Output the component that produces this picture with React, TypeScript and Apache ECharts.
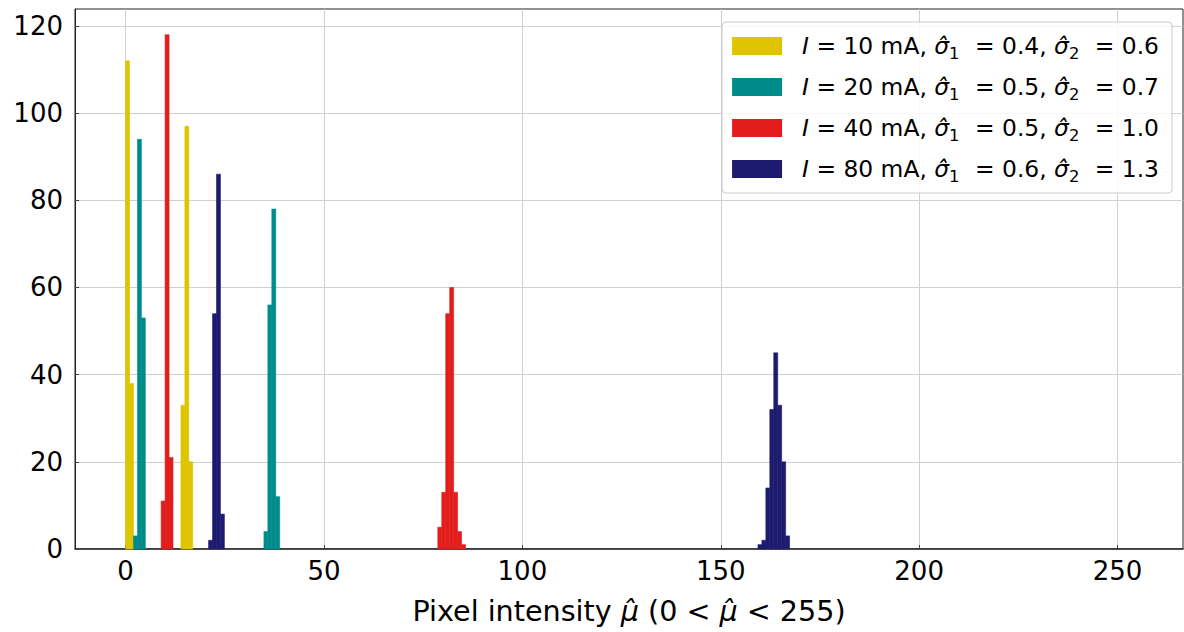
import React, { useEffect, useRef } from "react";
import * as echarts from "echarts";

// Histogram bins: 256 bins over [0, 255]
const binCount = 256;
const rangeMax = 255;

const currents = [10, 20, 40, 80];
const sigma1 = ["0.4", "0.5", "0.5", "0.6"];
const sigma2 = ["0.6", "0.7", "1.0", "1.3"];
const colors = ["#dfc400", "#008b8b", "#e31c1c", "#1d1b6f"];

const bins10 = [0, 1, 14, 15, 16];
const counts10 = [112, 38, 33, 97, 20];

const bins20 = [2, 3, 4, 35, 36, 37, 38];
const counts20 = [3, 94, 53, 4, 56, 78, 12];

const bins40 = [9, 10, 11, 79, 80, 81, 82, 83, 84, 85];
const counts40 = [11, 118, 21, 5, 13, 54, 60, 13, 4, 1];

const bins80 = [21, 22, 23, 24, 160, 161, 162, 163, 164, 165, 166, 167];
const counts80 = [2, 54, 86, 8, 1, 2, 14, 32, 45, 33, 20, 3];

const xTicks = [0, 50, 100, 150, 200, 250];
const yTicks = [0, 20, 40, 60, 80, 100, 120];

const allBins = [bins10, bins20, bins40, bins80];
const allCounts = [counts10, counts20, counts40, counts80];

const FONT = "DejaVu Sans";
const LF = 23.4;

export default function App() {
  const ref = useRef<HTMLDivElement>(null);
  useEffect(() => {
    if (!ref.current) return;
    const chart = echarts.init(ref.current, null, { renderer: "svg" });
    const w = rangeMax / binCount;
    const names = currents.map(
      (c, k) => `I = ${c} mA, σ̂1 = ${sigma1[k]}, σ̂2 = ${sigma2[k]}`
    );
    const series = allBins.map((bins, k) => ({
      type: "custom",
      name: names[k],
      itemStyle: { color: colors[k] },
      encode: { x: [0, 2], y: 1 },
      data: bins.map((b, j) => [b * w, allCounts[k][j], (b + 1) * w]),
      renderItem: (params: any, api: any) => {
        const p0 = api.coord([api.value(0), api.value(1)]);
        const p1 = api.coord([api.value(2), 0]);
        return {
          type: "rect",
          shape: { x: p0[0], y: p0[1], width: p1[0] - p0[0], height: p1[1] - p0[1] },
          style: { fill: colors[k], stroke: colors[k], lineWidth: 0.6 },
        };
      },
    }));
    chart.setOption({
      animation: false,
      backgroundColor: "#ffffff",
      grid: {
        left: 75,
        right: 1,
        top: 9,
        bottom: 83,
        show: true,
        borderColor: "#222",
        borderWidth: 1,
        containLabel: false,
      },
      legend: {
        orient: "vertical",
        right: 12,
        top: 22,
        itemWidth: 50,
        itemHeight: 18,
        itemGap: 11,
        icon: "rect",
        padding: [9, 13, 9, 10],
        backgroundColor: "rgba(255,255,255,0.85)",
        borderColor: "#cccccc",
        borderWidth: 1,
        borderRadius: 4,
        formatter: (name: string) =>
          name
            .replace(/^I/, "{it|I}")
            .replace(/σ̂(\d)/g, "{it|σ̂}{sub|$1}"),
        textStyle: {
          fontFamily: FONT,
          fontSize: LF,
          lineHeight: 30,
          color: "#000",
          padding: [0, 0, 0, 15],
          rich: {
            it: { fontFamily: FONT, fontSize: LF, lineHeight: 30, fontStyle: "italic", color: "#000" },
            sub: {
              fontFamily: FONT,
              fontSize: 16.4,
              lineHeight: 16,
              verticalAlign: "bottom",
              padding: [0, 8, 0, 0],
              color: "#000",
            },
          },
        },
      },
      xAxis: {
        type: "value",
        min: -12.75,
        max: 266.5,
        interval: 50,
        name: "Pixel intensity {it|μ̂} (0 < {it|μ̂} < 255)",
        nameLocation: "middle",
        nameGap: 47,
        nameTextStyle: {
          fontFamily: FONT,
          fontSize: 28.6,
          color: "#000",
          rich: { it: { fontFamily: FONT, fontSize: 28.6, fontStyle: "italic", color: "#000" } },
        },
        axisLine: { show: true, lineStyle: { color: "#222", width: 1.5 } },
        axisTick: {
          show: true,
          inside: true,
          length: 4,
          lineStyle: { color: "#444" },
          customValues: xTicks,
        },
        axisLabel: {
          fontFamily: FONT,
          fontSize: 26,
          color: "#000",
          margin: 9,
          customValues: xTicks,
          formatter: (v: number) => (xTicks.includes(v) ? String(v) : ""),
        },
        splitLine: { show: true, lineStyle: { color: "#d0d0d0", width: 1 } },
      },
      yAxis: {
        type: "value",
        min: 0,
        max: 123.9,
        interval: 20,
        axisLine: { show: true, onZero: false, lineStyle: { color: "#222", width: 1 } },
        axisTick: {
          show: true,
          inside: true,
          length: 4,
          lineStyle: { color: "#444" },
          customValues: yTicks,
        },
        axisLabel: {
          fontFamily: FONT,
          fontSize: 26,
          color: "#000",
          margin: 12,
          customValues: yTicks,
          formatter: (v: number) => (yTicks.includes(v) ? String(v) : ""),
        },
        splitLine: { show: true, lineStyle: { color: "#d0d0d0", width: 1 } },
      },
      series,
    });
    return () => chart.dispose();
  }, []);
  return (
    <div
      ref={ref}
      style={{ position: "fixed", left: 0, top: 0, width: 1184, height: 632, background: "#fff" }}
    />
  );
}
